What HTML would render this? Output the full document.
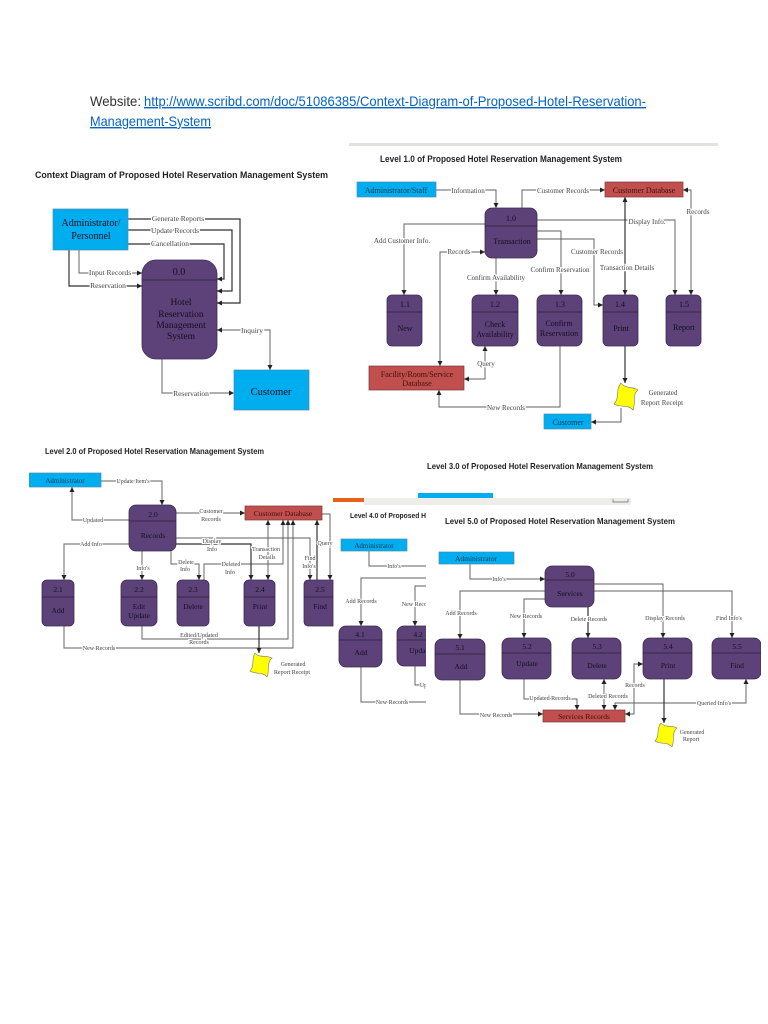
<!DOCTYPE html>
<html><head><meta charset="utf-8"><title>Hotel Reservation Management System Diagrams</title>
<style>
html,body{margin:0;padding:0;background:#fff;width:768px;height:1024px;overflow:hidden}
svg{display:block}
text{font-family:"Liberation Serif",serif;text-anchor:middle}
.h{font-family:"Liberation Sans",sans-serif;font-weight:bold;font-size:9.5px;fill:#222;text-anchor:start}
.w{font-family:"Liberation Sans",sans-serif;font-size:14px;fill:#333;text-anchor:start}
.a{fill:#0563c1;text-decoration:underline}
.l{font-size:7px;fill:#444;paint-order:stroke;stroke:#fff;stroke-width:2.5px}
.s{font-size:6px;fill:#444;paint-order:stroke;stroke:#fff;stroke-width:2px}
.n{font-size:7px;fill:#444}
.p{fill:#5b4278;stroke:#3c2b52;stroke-width:.8}
.d{stroke:#2d2040;stroke-width:.8;fill:none}
.b{fill:#00aeef;stroke:#4a8db0;stroke-width:.7}
.r{fill:#c0504d;stroke:#7d3533;stroke-width:.7}
.y{fill:#ffff00;stroke:#777;stroke-width:.6}
.t{font-size:8px;fill:#150e22}
.t2{font-size:7.5px;fill:#150e22}
.tb{font-size:8px;fill:#0d3550}
.tr{font-size:8px;fill:#3d0f0d}
.c{fill:none;stroke:#606060;stroke-width:.95;marker-end:url(#m)}
.cc{fill:none;stroke:#606060;stroke-width:.95;marker-end:url(#m);marker-start:url(#ms)}
.k{stroke:#333;stroke-width:1.2}
</style></head><body>
<svg xmlns="http://www.w3.org/2000/svg" width="768" height="1024" viewBox="0 0 768 1024">
<defs>
<marker id="m" markerUnits="userSpaceOnUse" markerWidth="6" markerHeight="6" refX="5" refY="2.5" orient="auto"><path d="M0 0L5 2.5L0 5Z" fill="#222"/></marker>
<marker id="ms" markerUnits="userSpaceOnUse" markerWidth="6" markerHeight="6" refX="0" refY="2.5" orient="auto"><path d="M5 0L0 2.5L5 5Z" fill="#222"/></marker>
<filter id="bl" x="0" y="0" width="100%" height="100%"><feGaussianBlur stdDeviation="0.35"/></filter>
<clipPath id="c4"><rect x="330" y="505" width="96" height="210"/></clipPath>
</defs>

<text class="w" x="90" y="106" textLength="51" lengthAdjust="spacingAndGlyphs">Website:</text>
<text class="w a" x="144" y="106" textLength="502" lengthAdjust="spacingAndGlyphs">http://www.scribd.com/doc/51086385/Context-Diagram-of-Proposed-Hotel-Reservation-</text>
<text class="w a" x="90" y="126" textLength="121" lengthAdjust="spacingAndGlyphs">Management-System</text>

<g filter="url(#bl)">
<!-- Context diagram -->
<text class="h" x="35" y="178" textLength="293" lengthAdjust="spacingAndGlyphs">Context Diagram of Proposed Hotel Reservation Management System</text>
<path class="c k" d="M128 219H240V303H217"/>
<path class="c k" d="M128 230H232V291H217"/>
<path class="c k" d="M128 244H224V279H217"/>
<path class="c" d="M79 250V273H142"/>
<path class="c k" d="M69 250V286H142"/>
<path class="cc" d="M217 330H270V370"/>
<path class="c" d="M162 359V393H234"/>
<rect class="b" x="53" y="209" width="75" height="41"/>
<text class="t" style="font-size:10px" x="91" y="226">Administrator/</text>
<text class="t" style="font-size:10px" x="91" y="239">Personnel</text>
<rect class="p" x="142" y="260" width="75" height="99" rx="14"/>
<path class="d" d="M142 280H217"/>
<text class="t" style="font-size:10px" x="179" y="275">0.0</text>
<text class="t" style="font-size:9.5px" x="181" y="305">Hotel</text>
<text class="t" style="font-size:9.5px" x="181" y="317">Reservation</text>
<text class="t" style="font-size:9.5px" x="181" y="328">Management</text>
<text class="t" style="font-size:9.5px" x="181" y="339">System</text>
<rect class="b" x="234" y="370" width="75" height="40"/>
<text class="t" style="font-size:10.5px" x="271" y="395">Customer</text>
<text class="l" style="font-size:7.5px" x="178" y="221">Generate Reports</text>
<text class="l" style="font-size:7.5px" x="175" y="233">Update Records</text>
<text class="l" style="font-size:7.5px" x="170" y="246">Cancellation</text>
<text class="l" style="font-size:7.5px" x="110" y="275">Input Records</text>
<text class="l" style="font-size:7.5px" x="108" y="288">Reservation</text>
<text class="l" style="font-size:7.5px" x="252" y="333">Inquiry</text>
<text class="l" style="font-size:7.5px" x="191" y="396">Reservation</text>

<!-- Level 1 -->
<rect x="349" y="143" width="369" height="3" fill="#e4e2df"/>
<text class="h" x="380" y="162" textLength="242" lengthAdjust="spacingAndGlyphs">Level 1.0 of Proposed Hotel Reservation Management System</text>
<path class="c" d="M436 190H496V208"/>
<path class="c" d="M522 208V190H605"/>
<path class="c" d="M537 220H675V295"/>
<path class="cc" d="M683 190H691V295"/>
<path class="c" d="M485 224H404V295"/>
<path class="cc" d="M440 366V252H485"/>
<path class="c" d="M496 258V295"/>
<path class="c" d="M537 231H561V295"/>
<path class="c" d="M537 239H594V305H603"/>
<path class="cc k" d="M625 197V295"/>
<path class="c k" d="M625 346V383"/>
<path class="cc" d="M485 346V379H464"/>
<path class="c" d="M560 346V407H439V390"/>
<path class="c" d="M621 408V422H591"/>
<rect class="b" x="357" y="182" width="79" height="15"/>
<text class="tb" x="396" y="193">Administrator/Staff</text>
<rect class="r" x="605" y="182" width="78" height="15"/>
<text class="tr" x="644" y="193">Customer Database</text>
<rect class="p" x="485" y="208" width="52" height="50" rx="7"/><path class="d" d="M485 226H537"/>
<text class="t" x="511" y="221">1.0</text><text class="t" x="512" y="244">Transaction</text>
<rect class="p" x="387" y="295" width="35" height="51" rx="5"/><path class="d" d="M387 312H422"/>
<text class="t" x="405" y="307">1.1</text><text class="t" x="405" y="331">New</text>
<rect class="p" x="472" y="295" width="46" height="51" rx="6"/><path class="d" d="M472 312H518"/>
<text class="t" x="495" y="307">1.2</text><text class="t" x="495" y="327">Check</text><text class="t" x="495" y="337">Availability</text>
<rect class="p" x="537" y="295" width="45" height="51" rx="6"/><path class="d" d="M537 312H582"/>
<text class="t" x="560" y="307">1.3</text><text class="t" x="559" y="326">Confirm</text><text class="t" x="559" y="336">Reservation</text>
<rect class="p" x="603" y="295" width="35" height="51" rx="5"/><path class="d" d="M603 312H638"/>
<text class="t" x="620" y="307">1.4</text><text class="t" x="621" y="331">Print</text>
<rect class="p" x="666" y="295" width="35" height="51" rx="5"/><path class="d" d="M666 312H701"/>
<text class="t" x="684" y="307">1.5</text><text class="t" x="684" y="330">Report</text>
<rect class="r" x="369" y="366" width="95" height="24"/>
<text class="tr" x="417" y="377">Facility/Room/Service</text><text class="tr" x="417" y="386">Database</text>
<rect class="b" x="544" y="414" width="47" height="15"/>
<text class="tb" x="568" y="425">Customer</text>
<path class="y" d="M621 383C625 389 632 386 638 390C632 394 636 403 633 410C628 404 620 408 614 404C620 398 615 390 621 383Z"/>
<text class="n" x="663" y="395">Generated</text>
<text class="n" x="662" y="405">Report Receipt</text>
<text class="l" x="468" y="193">Information</text>
<text class="l" x="563" y="193">Customer Records</text>
<text class="l" x="647" y="224">Display Info.</text>
<text class="l" x="698" y="214">Records</text>
<text class="l" x="402" y="243">Add Customer Info.</text>
<text class="l" x="459" y="254">Records</text>
<text class="l" x="496" y="280">Confirm Availability</text>
<text class="l" x="560" y="272">Confirm Reservation</text>
<text class="l" x="597" y="254">Customer Records</text>
<text class="l" x="627" y="270">Transaction Details</text>
<text class="l" x="486" y="366">Query</text>
<text class="l" x="506" y="410">New Records</text>

<!-- Level 2 -->
<text class="h" style="font-size:8.5px" x="45" y="454" textLength="219" lengthAdjust="spacingAndGlyphs">Level 2.0 of Proposed Hotel Reservation Management System</text>
<path class="c" d="M101 481H162V505"/>
<path class="c" d="M129 520H72V487"/>
<path class="c" d="M176 513H245"/>
<path class="c" d="M129 544H64V580"/>
<path class="c" d="M142 551V580"/>
<path class="c" d="M171 551V564H199V580"/>
<path class="c" d="M204 580V564H283V520"/>
<path class="c k" d="M176 544H251V580"/>
<path class="cc" d="M268 520V580"/>
<path class="c" d="M176 538H310V580"/>
<path class="c k" d="M317 580V520"/>
<path class="c" d="M322 514H330V580"/>
<path class="c" d="M142 626V639H288V520"/>
<path class="c" d="M64 626V648H293V520"/>
<path class="c k" d="M259 626V653"/>
<rect class="b" x="29" y="473" width="72" height="14"/>
<text class="tb" style="font-size:7px" x="65" y="483">Administrator</text>
<rect class="p" x="129" y="505" width="47" height="46" rx="7"/><path class="d" d="M129 521H176"/>
<text class="t2" x="153" y="517">2.0</text><text class="t2" x="153" y="538">Records</text>
<rect class="r" x="245" y="506" width="77" height="14"/>
<text class="tr" style="font-size:7.5px" x="283" y="516">Customer Database</text>
<rect class="p" x="42" y="580" width="32" height="46" rx="5"/><path class="d" d="M42 597H74"/>
<text class="t2" x="58" y="592">2.1</text><text class="t2" x="58" y="613">Add</text>
<rect class="p" x="121" y="580" width="36" height="46" rx="6"/><path class="d" d="M121 597H157"/>
<text class="t2" x="139" y="592">2.2</text><text class="t2" x="139" y="609">Edit</text><text class="t2" x="139" y="618">Update</text>
<rect class="p" x="177" y="580" width="32" height="46" rx="5"/><path class="d" d="M177 597H209"/>
<text class="t2" x="193" y="592">2.3</text><text class="t2" x="193" y="609">Delete</text>
<rect class="p" x="244" y="580" width="31" height="46" rx="5"/><path class="d" d="M244 597H275"/>
<text class="t2" x="260" y="592">2.4</text><text class="t2" x="260" y="609">Print</text>
<path class="p" d="M333 580H309Q304 580 304 585V621Q304 626 309 626H333Z"/><path class="d" d="M304 597H333"/>
<text class="t2" x="320" y="592">2.5</text><text class="t2" x="320" y="609">Find</text>
<path class="y" d="M255 653C259 658 266 655 272 658C266 663 270 671 267 677C262 671 256 675 250 671C255 666 251 659 255 653Z"/>
<text class="s" style="stroke:none" x="293" y="666">Generated</text>
<text class="s" style="stroke:none" x="292" y="674">Report Receipt</text>
<text class="s" x="133" y="483">Update Item's</text>
<text class="s" x="93" y="522">Updated</text>
<text class="s" x="211" y="513">Customer</text><text class="s" x="211" y="521">Records</text>
<text class="s" x="91" y="546">Add Info</text>
<text class="s" x="143" y="570">Info's</text>
<text class="s" x="186" y="564">Delete</text><text class="s" x="185" y="571">Info</text>
<text class="s" x="231" y="566">Deleted</text><text class="s" x="230" y="574">Info</text>
<text class="s" x="212" y="543">Display</text><text class="s" x="212" y="551">Info</text>
<text class="s" x="266" y="551">Transaction</text><text class="s" x="267" y="559">Details</text>
<text class="s" x="310" y="560">Find</text><text class="s" x="309" y="568">Info's</text>
<text class="s" x="325" y="545">Query</text>
<text class="s" x="199" y="637">Edited/Updated</text><text class="s" x="199" y="644">Records</text>
<text class="s" x="99" y="650">New Records</text>

<!-- Level 3 fragment -->
<text class="h" style="font-size:8.5px" x="427" y="469" textLength="226" lengthAdjust="spacingAndGlyphs">Level 3.0 of Proposed Hotel Reservation Management System</text>
<rect x="364" y="498" width="267" height="7" fill="#efedea"/>
<rect x="333" y="498" width="31" height="4" fill="#e8601c"/>
<rect x="418" y="493" width="75" height="5" fill="#00aeef"/>
<path d="M613 499V502H628V499" fill="none" stroke="#666" stroke-width=".7"/>

<!-- Level 4 fragment -->
<g clip-path="url(#c4)">
<text class="h" style="font-size:7.5px" x="350" y="518" textLength="76" lengthAdjust="spacingAndGlyphs">Level 4.0 of Proposed H</text>
<path class="c" d="M369 551V566H430" style="marker-end:none"/>
<path class="c" d="M430 578H361V626"/>
<path class="c" d="M430 586H415V626"/>
<path class="c" d="M361 667V702H430" style="marker-end:none"/>
<path class="c" d="M415 666V685H430" style="marker-end:none"/>
<rect class="b" x="341" y="539" width="66" height="12"/>
<text class="tb" style="font-size:7px" x="374" y="548">Administrator</text>
<rect class="p" x="339" y="626" width="43" height="41" rx="7"/><path class="d" d="M339 640H382"/>
<text class="t2" x="360" y="637">4.1</text><text class="t2" x="361" y="655">Add</text>
<rect class="p" x="397" y="626" width="45" height="40" rx="7"/><path class="d" d="M397 640H442"/>
<text class="t2" x="418" y="637">4.2</text><text class="t2" x="420" y="653">Update</text>
<text class="s" x="394" y="568">Info's</text>
<text class="s" x="361" y="603">Add Records</text>
<text class="s" x="418" y="606">New Records</text>
<text class="s" x="392" y="704">New Records</text>
<text class="s" x="430" y="687">Updated</text>
</g>

<!-- Level 5 -->
<text class="h" style="font-size:8.5px" x="445" y="524" textLength="230" lengthAdjust="spacingAndGlyphs">Level 5.0 of Proposed Hotel Reservation Management System</text>
<path class="c" d="M470 564V579H545"/>
<path class="c" d="M545 591H460V639"/>
<path class="c" d="M545 599H524V638"/>
<path class="c k" d="M588 607V638"/>
<path class="c" d="M594 584H663V638"/>
<path class="c" d="M594 591H732V638"/>
<path class="c" d="M460 680V714H543"/>
<path class="c" d="M524 679V699H577V710"/>
<path class="cc" d="M604 679V710"/>
<path class="cc" d="M625 714H634V664H643"/>
<path class="cc" d="M746 679V703H615V710"/>
<path class="c k" d="M664 679V723"/>
<rect class="b" x="439" y="552" width="75" height="12"/>
<text class="tb" style="font-size:7.5px" x="476" y="561">Administrator</text>
<rect class="p" x="545" y="566" width="49" height="41" rx="7"/><path class="d" d="M545 580H594"/>
<text class="t2" x="570" y="577">5.0</text><text class="t2" x="570" y="596">Services</text>
<rect class="p" x="435" y="639" width="50" height="41" rx="7"/><path class="d" d="M435 654H485"/>
<text class="t2" x="460" y="650">5.1</text><text class="t2" x="461" y="669">Add</text>
<rect class="p" x="502" y="638" width="49" height="41" rx="7"/><path class="d" d="M502 653H551"/>
<text class="t2" x="527" y="649">5.2</text><text class="t2" x="527" y="666">Update</text>
<rect class="p" x="572" y="638" width="49" height="41" rx="7"/><path class="d" d="M572 653H621"/>
<text class="t2" x="597" y="649">5.3</text><text class="t2" x="597" y="668">Delete</text>
<rect class="p" x="643" y="638" width="49" height="41" rx="7"/><path class="d" d="M643 653H692"/>
<text class="t2" x="668" y="649">5.4</text><text class="t2" x="668" y="668">Print</text>
<rect class="p" x="712" y="638" width="49" height="41" rx="7"/><path class="d" d="M712 653H761"/>
<text class="t2" x="737" y="649">5.5</text><text class="t2" x="737" y="668">Find</text>
<rect class="r" x="543" y="710" width="82" height="12"/>
<text class="tr" style="font-size:7.5px" x="584" y="719">Services Records</text>
<path class="y" d="M661 723C665 728 672 725 677 728C671 733 675 741 672 747C667 741 661 745 655 741C660 736 656 729 661 723Z"/>
<text class="s" style="stroke:none" x="692" y="734">Generated</text>
<text class="s" style="stroke:none" x="691" y="741">Report</text>
<text class="s" x="499" y="581">Info's</text>
<text class="s" x="461" y="615">Add Records</text>
<text class="s" x="526" y="618">New Records</text>
<text class="s" x="589" y="621">Delete Records</text>
<text class="s" x="665" y="620">Display Records</text>
<text class="s" x="729" y="620">Find Info's</text>
<text class="s" x="550" y="700">Updated Records</text>
<text class="s" x="608" y="698">Deleted Records</text>
<text class="s" x="635" y="687">Records</text>
<text class="s" x="714" y="705">Queried Info's</text>
<text class="s" x="496" y="717">New Records</text>
</g>
</svg>
</body></html>
